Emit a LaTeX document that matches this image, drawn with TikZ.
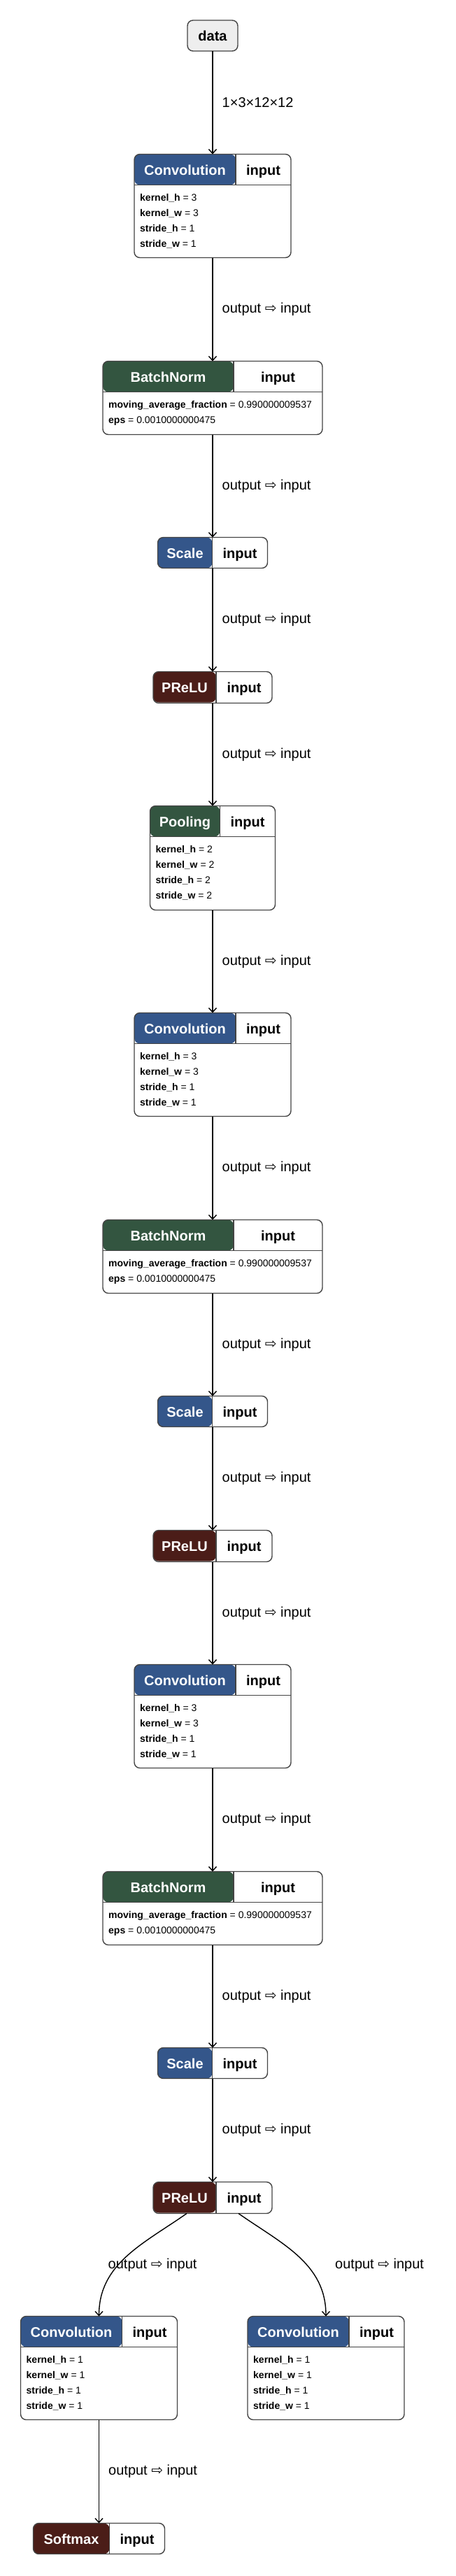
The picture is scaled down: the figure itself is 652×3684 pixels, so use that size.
\documentclass[tikz,border=0pt]{standalone}
\usepackage{fontspec}
\setmainfont{Liberation Sans}
\newfontfamily\dejavu{DejaVu Sans}
\usetikzlibrary{positioning, arrows.meta, calc}

\definecolor{convblue}{HTML}{34568A}
\definecolor{normgreen}{HTML}{335540}
\definecolor{actred}{HTML}{4B1D18}
\definecolor{datagray}{HTML}{EEEEEE}
\definecolor{boxedge}{HTML}{444444}

\begin{document}
\begin{tikzpicture}[
  box/.style={draw=boxedge, line width=1.4pt, rounded corners=8pt, fill=white,
              inner sep=0pt, outer sep=0pt},
  head/.style 2 args={path picture={\fill[#1] (path picture bounding box.north west)
      rectangle ([xshift=#2, yshift=-44pt]path picture bounding box.north west);}},
  conv/.style={box, head={convblue}{145pt}, minimum width=224pt, minimum height=148pt},
  norm/.style={box, head={normgreen}{187pt}, minimum width=314pt, minimum height=105pt},
  scl/.style={box, head={convblue}{78pt}, minimum width=157pt, minimum height=44pt},
  act/.style={box, head={actred}{90pt}, minimum width=170pt, minimum height=45pt},
  pool/.style={box, head={normgreen}{100pt}, minimum width=179pt, minimum height=149pt},
  soft/.style={box, head={actred}{109pt}, minimum width=188pt, minimum height=44pt},
  ttl/.style={text=white, font=\bfseries\fontsize{20}{24}\selectfont, inner sep=0pt, anchor=base},
  port/.style={text=black, font=\bfseries\fontsize{20}{24}\selectfont, inner sep=0pt, anchor=base},
  divider/.style={draw=boxedge, line width=1.4pt},
  params/.style={anchor=north west, align=left, inner sep=0pt, font=\fontsize{14}{22}\selectfont},
  arr/.style={-{Straight Barb[length=6pt, width=11pt]}, line width=1.4pt, black},
  lbl/.style={font=\fontsize{20}{24}\selectfont, anchor=west, inner sep=0pt, xshift=13pt},
]
\useasboundingbox (0,0) rectangle (652pt,-3684pt);

% Input
\node[box, fill=datagray, minimum width=72pt, minimum height=44pt,
      font=\bfseries\fontsize{20}{24}\selectfont] (data) at (304pt,-51pt) {data};

% Layers
\node[conv, below=147.5pt of data] (conv1) {};
\node[norm, below=148pt of conv1] (bn1) {};
\node[scl, below=147pt of bn1] (scale1) {};
\node[act, below=148pt of scale1] (prelu1) {};
\node[pool, below=147pt of prelu1] (pool1) {};
\node[conv, below=147pt of pool1] (conv2) {};
\node[norm, below=148pt of conv2] (bn2) {};
\node[scl, below=147pt of bn2] (scale2) {};
\node[act, below=148pt of scale2] (prelu2) {};
\node[conv, below=147pt of prelu2] (conv3) {};
\node[norm, below=148pt of conv3] (bn3) {};
\node[scl, below=147pt of bn3] (scale3) {};
\node[act, below=148pt of scale3] (prelu3) {};
\node[conv, below=147pt of prelu3, xshift=-162.5pt] (conv4) {};
\node[conv, below=147pt of prelu3, xshift=162pt] (conv5) {};
\node[soft, below=148pt of conv4] (softmax) {};

% Header cells
\foreach \n/\t/\s/\w in {conv1/Convolution/145/224, bn1/BatchNorm/187/314,
    scale1/Scale/78/157, prelu1/PReLU/90/170, pool1/Pooling/100/179,
    conv2/Convolution/145/224, bn2/BatchNorm/187/314, scale2/Scale/78/157,
    prelu2/PReLU/90/170, conv3/Convolution/145/224, bn3/BatchNorm/187/314,
    scale3/Scale/78/157, prelu3/PReLU/90/170, conv4/Convolution/145/224,
    conv5/Convolution/145/224, softmax/Softmax/109/188} {
  \node[ttl] (\n-t) at ([xshift={0.5*\s pt}, yshift=-30pt]\n.north west) {\t};
  \node[port] (\n-i) at ([xshift={(\s+\w)*0.5pt}, yshift=-30pt]\n.north west) {input};
  \draw[divider] ([xshift=\s pt]\n.north west) -- ++(0,-44pt);
}
\foreach \n in {conv1, bn1, pool1, conv2, bn2, conv3, bn3, conv4, conv5}
  \draw[divider] ([yshift=-44pt]\n.north west) -- ([yshift=-44pt]\n.north east);

% Parameters
\node[params] (conv1-p) at ([xshift=8pt, yshift=-57pt]conv1.north west)
  {\textbf{kernel\_h} = 3\\\textbf{kernel\_w} = 3\\\textbf{stride\_h} = 1\\\textbf{stride\_w} = 1};
\node[params] (bn1-p) at ([xshift=8pt, yshift=-57pt]bn1.north west)
  {\textbf{moving\_average\_fraction} = 0.990000009537\\\textbf{eps} = 0.0010000000475};
\node[params] (pool1-p) at ([xshift=8pt, yshift=-57pt]pool1.north west)
  {\textbf{kernel\_h} = 2\\\textbf{kernel\_w} = 2\\\textbf{stride\_h} = 2\\\textbf{stride\_w} = 2};
\node[params] (conv2-p) at ([xshift=8pt, yshift=-57pt]conv2.north west)
  {\textbf{kernel\_h} = 3\\\textbf{kernel\_w} = 3\\\textbf{stride\_h} = 1\\\textbf{stride\_w} = 1};
\node[params] (bn2-p) at ([xshift=8pt, yshift=-57pt]bn2.north west)
  {\textbf{moving\_average\_fraction} = 0.990000009537\\\textbf{eps} = 0.0010000000475};
\node[params] (conv3-p) at ([xshift=8pt, yshift=-57pt]conv3.north west)
  {\textbf{kernel\_h} = 3\\\textbf{kernel\_w} = 3\\\textbf{stride\_h} = 1\\\textbf{stride\_w} = 1};
\node[params] (bn3-p) at ([xshift=8pt, yshift=-57pt]bn3.north west)
  {\textbf{moving\_average\_fraction} = 0.990000009537\\\textbf{eps} = 0.0010000000475};
\node[params] (conv4-p) at ([xshift=8pt, yshift=-57pt]conv4.north west)
  {\textbf{kernel\_h} = 1\\\textbf{kernel\_w} = 1\\\textbf{stride\_h} = 1\\\textbf{stride\_w} = 1};
\node[params] (conv5-p) at ([xshift=8pt, yshift=-57pt]conv5.north west)
  {\textbf{kernel\_h} = 1\\\textbf{kernel\_w} = 1\\\textbf{stride\_h} = 1\\\textbf{stride\_w} = 1};

% Arrows
\draw[arr] (data) -- node[lbl] (data-conv1) {1×3×12×12} (conv1);
\foreach \a/\b in {conv1/bn1, bn1/scale1, scale1/prelu1, prelu1/pool1, pool1/conv2,
    conv2/bn2, bn2/scale2, scale2/prelu2, prelu2/conv3, conv3/bn3, bn3/scale3,
    scale3/prelu3, conv4/softmax}
  \draw[arr] (\a) -- node[lbl] (\a-\b) {output {\dejavu ⇨} input} (\b);
\draw[arr] ([xshift=-37pt]prelu3.south) to[out=-145, in=90] (conv4.north);
\draw[arr] ([xshift=37pt]prelu3.south) to[out=-35, in=90] (conv5.north);
\node[lbl] (prelu3-conv4) at ($(conv4.north)!0.5!(conv4.north |- prelu3.south)$)
  {output {\dejavu ⇨} input};
\node[lbl] (prelu3-conv5) at ($(conv5.north)!0.5!(conv5.north |- prelu3.south)$)
  {output {\dejavu ⇨} input};

\end{tikzpicture}
\end{document}
